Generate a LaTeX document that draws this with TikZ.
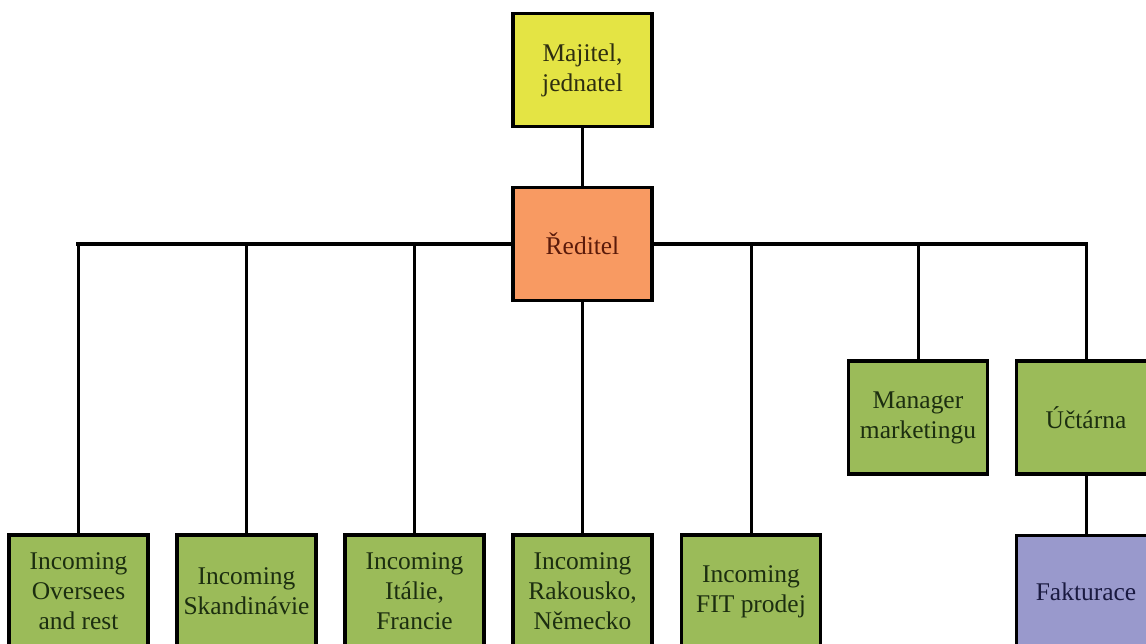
\documentclass[tikz,border=0pt]{standalone}
\usepackage{fontspec}
\setmainfont{Liberation Serif}
\definecolor{ownerfill}{HTML}{E4E444}
\definecolor{headfill}{HTML}{F89A62}
\definecolor{deptfill}{HTML}{9BBB59}
\definecolor{billfill}{HTML}{9999CC}
\definecolor{ownertext}{HTML}{2E2E10}
\definecolor{headtext}{HTML}{5A1A0A}
\definecolor{depttext}{HTML}{1C2E10}
\definecolor{billtext}{HTML}{1A1A40}
\tikzset{
  unit/.style={draw=black,line width=2pt,minimum width=2.78cm,minimum height=2.26cm,
    inner sep=0pt,align=center,font=\fontsize{14.5}{17}\selectfont},
  dept/.style={unit,fill=deptfill,text=depttext},
  link/.style={black,line width=1.7pt},
  bus/.style={black,line width=2.3pt,line cap=rect}
}
\begin{document}
\begin{tikzpicture}[x=0.02cm,y=-0.02cm]
                        \useasboundingbox (0,0) rectangle (1146,644);
                        \coordinate (b1) at (78.5,244);
                        \coordinate (b2) at (246.5,244);
                        \coordinate (b3) at (414.5,244);
                        \coordinate (b5) at (751,244);
                        \coordinate (b6) at (918,244);
                        \coordinate (b7) at (1086,244);
                        \node [unit,fill=ownerfill,text=ownertext] (owner) at (582.5,70) {Majitel,\\jednatel};
                        \node [unit,fill=headfill,text=headtext] (head) at (582.5,244) {Ředitel};
                        \node [dept] (oversees) at (78.5,591.5) {Incoming\\Oversees\\and rest};
                        \node [dept] (skand) at (246.5,591.5) {Incoming\\Skandinávie};
                        \node [dept] (italie) at (414.5,591.5) {Incoming\\Itálie,\\Francie};
                        \node [dept] (rakousko) at (582.5,591.5) {Incoming\\Rakousko,\\Německo};
                        \node [dept] (fit) at (751,591.5) {Incoming\\FIT prodej};
                        \node [dept] (marketing) at (918,417.5) {Manager\\marketingu};
                        \node [dept] (uctarna) at (1086,417.5) {Účtárna};
                        \node [unit,fill=billfill,text=billtext] (faktura) at (1086,592) {Fakturace};
                        \draw [bus] (b1)--(head.west);
                        \draw [bus] (head.east)--(b7);
                        \draw [link] (owner.south)--(head.north);
                        \draw [link] (head.south)--(rakousko.north);
                        \draw [link] (b1)--(oversees.north);
                        \draw [link] (b2)--(skand.north);
                        \draw [link] (b3)--(italie.north);
                        \draw [link] (b5)--(fit.north);
                        \draw [link] (b6)--(marketing.north);
                        \draw [link] (b7)--(uctarna.north);
                        \draw [link] (uctarna.south)--(faktura.north);
                    \end{tikzpicture}
\end{document}
